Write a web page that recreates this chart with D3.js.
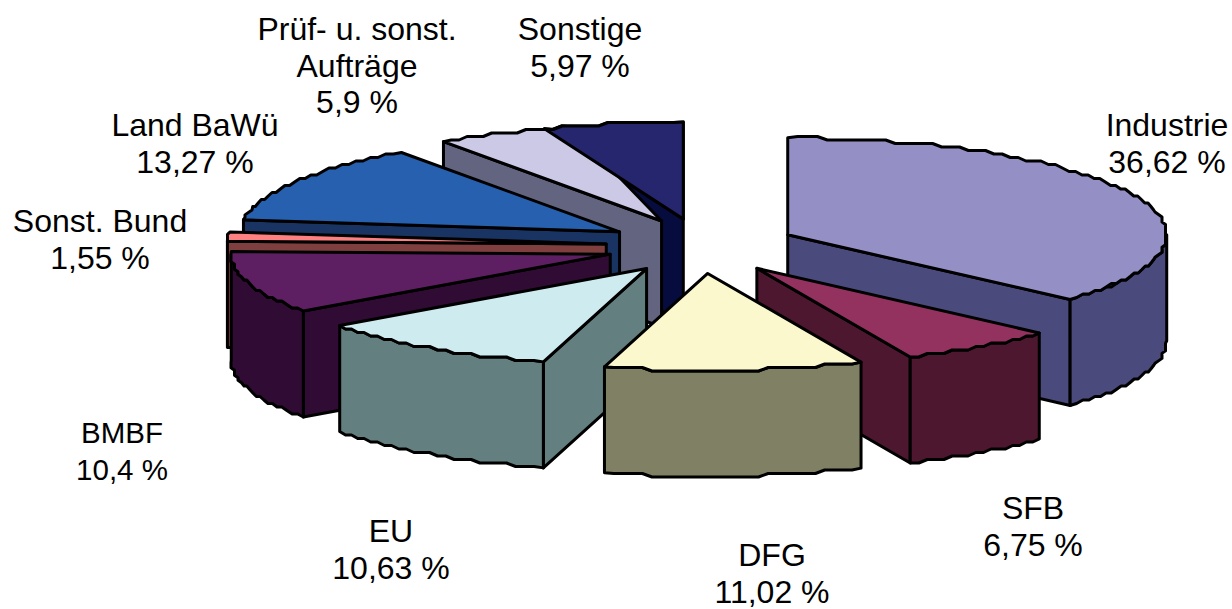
<!DOCTYPE html>
<html>
<head>
<meta charset="utf-8">
<script src="https://cdn.jsdelivr.net/npm/d3@7/dist/d3.min.js"></script>
<style>
  html, body { margin: 0; padding: 0; background: #fff; }
  svg { display: block; }
  text { font-family: "Liberation Sans", Arial, sans-serif; fill: #000; text-anchor: middle; }
</style>
</head>
<body>
<svg id="chart" width="1232" height="609"></svg>
<script>
// Funding sources, share in percent
const categories = ["Industrie", "SFB", "DFG", "EU", "BMBF", "Sonst. Bund", "Land BaWü", "Prüf- u. sonst.|Aufträge", "Sonstige"];
const shares = [36.62, 6.75, 11.02, 10.63, 10.4, 1.55, 13.27, 5.9, 5.97];

// Surface colours of each wedge
const topColors = ["#9490C6", "#93315F", "#FBF8CE", "#CEECF0", "#5E1F62", "#FF8080", "#2660AE", "#CBC9E6", "#26266F"];
const wallColors = ["#4A4A7C", "#4E1730", "#808064", "#637F7F", "#300B33", "#803F3F", "#193462", "#636480", "#070C3E"];

// Label anchors (centre x, first baseline) and font sizes
const labelX = [1167, 1033, 772, 391, 122, 100, 195, 357, 580];
const labelY = [136, 519, 566, 542, 443, 232, 136, 40, 40];
const labelSize = [32, 32, 32, 32, 29.5, 32, 32, 32, 32];

const centerX = 701, centerY = 246, radiusX = 379, radiusY = 97;
const wallDepth = 106;
const explodeX = 95 / radiusX, explodeY = 27.5 / radiusY;
const rad = Math.PI / 180;
const fullTurn = 2 * Math.PI;

const sx = d3.scaleLinear().domain([-1, 1]).range([centerX - radiusX, centerX + radiusX]);
const sy = d3.scaleLinear().domain([-1, 1]).range([centerY - radiusY, centerY + radiusY]);

// One percent spans 3.6 degrees. The shares add up to more than 100 %,
// so the pie is stretched back to that rate and the last wedge is pinned
// to end at twelve o'clock, overlapping its neighbour.
const percentRate = d3.sum(shares) / 100;
const arcs = d3.pie().value(d => d).sort(null)(shares).map(d => ({
  ...d,
  startAngle: d.startAngle * percentRate,
  endAngle: d.endAngle * percentRate
}));
const last = arcs[arcs.length - 1];
last.startAngle -= last.endAngle - fullTurn;
last.endAngle = fullTurn;

const svg = d3.select("#chart");
const line = d3.line().curve(d3.curveLinear);

function project(arc, angle, r, depth) {
  const mid = (arc.startAngle + arc.endAngle) / 2;
  return [
    sx(r * Math.sin(angle) + explodeX * Math.sin(mid)),
    sy(-(r * Math.cos(angle) + explodeY * Math.cos(mid))) + depth
  ];
}

// Rim outline held to a coarse raster, as in a low-resolution chart metafile
function rimPoints(arc, a0, a1, depth) {
  const n = Math.max(2, Math.ceil((a1 - a0) / (1.5 * rad)));
  const grid = 3.5;
  return d3.range(n + 1).map(i => {
    const a = a0 + (a1 - a0) * i / n;
    const p = project(arc, a, 1, depth);
    if (i === 0 || i === n) return p;
    const shallow = Math.abs(radiusX * Math.cos(a)) > Math.abs(radiusY * Math.sin(a));
    return shallow
      ? [p[0], Math.round((p[1] - depth) / grid) * grid + depth]
      : [Math.round(p[0] / grid) * grid, p[1]];
  });
}

function drawFace(g, pts, fill) {
  g.append("path")
    .attr("d", line(pts) + "Z")
    .attr("fill", fill)
    .attr("stroke", "#000")
    .attr("stroke-width", 3)
    .attr("stroke-linejoin", "round");
}

function drawWalls(i) {
  const arc = arcs[i];
  const g = svg.append("g").attr("class", "walls");
  const a0 = arc.startAngle, a1 = arc.endAngle;

  // Radial walls, only where they face the viewer
  [[a0, Math.sin(a0) < -1e-9], [a1, Math.sin(a1) > 1e-9]].forEach(([a, visible]) => {
    if (!visible) return;
    drawFace(g, [
      project(arc, a, 0, 0), project(arc, a, 1, 0),
      project(arc, a, 1, wallDepth), project(arc, a, 0, wallDepth)
    ], wallColors[i]);
  });

  // Outer wall along the front half of the rim
  const f0 = Math.max(a0, 90 * rad), f1 = Math.min(a1, 270 * rad);
  if (f1 > f0) {
    drawFace(g, [...rimPoints(arc, f0, f1, 0), ...rimPoints(arc, f0, f1, wallDepth).reverse()], wallColors[i]);
  }
}

function drawTop(i) {
  const arc = arcs[i];
  const g = svg.append("g").attr("class", "top");
  drawFace(g, [project(arc, arc.startAngle, 0, 0), ...rimPoints(arc, arc.startAngle, arc.endAngle, 0)], topColors[i]);
}

function drawWedge(i) {
  drawWalls(i);
  drawTop(i);
}

// Painted from the back of the pie to the front; the pinned wedge's
// top goes over the neighbour it overlaps.
drawWedge(8);
drawWedge(7);
drawTop(8);
[6, 5, 4, 3, 0, 1, 2].forEach(drawWedge);

// Labels: name on one or more lines, then the share with a decimal comma
categories.forEach((name, i) => {
  const lines = [...name.split("|"), String(shares[i]).replace(".", ",") + " %"];
  const text = svg.append("text").attr("font-size", labelSize[i]);
  lines.forEach((t, k) => {
    text.append("tspan")
      .attr("x", labelX[i])
      .attr("y", labelY[i] + k * 36.5)
      .text(t);
  });
});
</script>
</body>
</html>
